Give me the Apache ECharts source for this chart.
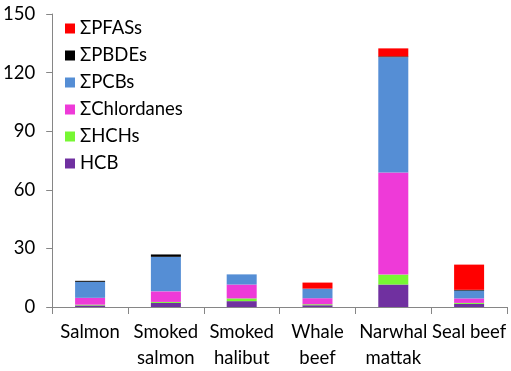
<!DOCTYPE html>
<html>
<head>
<meta charset="utf-8">
<script src="https://cdn.jsdelivr.net/npm/echarts@6/dist/echarts.min.js"></script>
<style>html,body{margin:0;padding:0;background:#fff}#c{width:511px;height:371px}</style>
</head>
<body>
<div id="c"></div>
<script>
const categories = ['Salmon', 'Smoked\nsalmon', 'Smoked\nhalibut', 'Whale\nbeef', 'Narwhal\nmattak', 'Seal beef'];
const hcb        = [0.8, 2.1, 3.0, 0.9, 11.5, 1.6];
const hchs       = [0.4, 0.5, 1.4, 0.5, 5.1, 0.5];
const chlordanes = [3.5, 5.4, 7.1, 3.1, 52.3, 2.3];
const pcbs       = [8.2, 17.7, 5.2, 4.9, 59.0, 4.0];
const pbdes      = [0.5, 1.2, 0, 0, 0.4, 0.4];
const pfass      = [0, 0, 0, 3.1, 4.1, 12.9];
const yTicks     = [0, 30, 60, 90, 120, 150];

const FONT = 'Lato';
const seriesDefs = [
  {name: 'HCB', data: hcb, color: '#7030A0'},
  {name: 'ΣHCHs', data: hchs, color: '#77F733'},
  {name: 'ΣChlordanes', data: chlordanes, color: '#EE3AD8'},
  {name: 'ΣPCBs', data: pcbs, color: '#558ED5'},
  {name: 'ΣPBDEs', data: pbdes, color: '#000000'},
  {name: 'ΣPFASs', data: pfass, color: '#FF0000'}
];
const chart = echarts.init(document.getElementById('c'));
chart.setOption({
  animation: false,
  backgroundColor: '#fff',
  grid: {left: 50, right: 4, top: 14, bottom: 62.5, containLabel: false},
  legend: {
    orient: 'vertical', left: 60, top: 14,
    itemWidth: 10, itemHeight: 10, itemGap: 8,
    icon: 'rect',
    data: seriesDefs.map(s => s.name).reverse(),
    textStyle: {fontFamily: FONT, fontSize: 18.5, lineHeight: 19, color: '#000'}
  },
  xAxis: {
    type: 'category', data: categories,
    axisLine: {lineStyle: {color: '#868686', width: 1}},
    axisTick: {show: true, length: 7, lineStyle: {color: '#868686'}},
    axisLabel: {interval: 0, margin: 12, fontFamily: FONT, fontSize: 18.5, lineHeight: 26, color: '#000'}
  },
  yAxis: {
    type: 'value', min: yTicks[0], max: yTicks[yTicks.length - 1], interval: 30,
    splitLine: {show: false},
    axisLine: {show: true, lineStyle: {color: '#868686', width: 1}},
    axisTick: {show: true, length: 6, lineStyle: {color: '#868686'}},
    axisLabel: {margin: 17, fontFamily: FONT, fontSize: 18.5, color: '#000'}
  },
  series: seriesDefs.map(s => ({
    name: s.name, type: 'bar', stack: 'total', data: s.data,
    barWidth: 30, itemStyle: {color: s.color}
  }))
});
</script>
</body>
</html>
